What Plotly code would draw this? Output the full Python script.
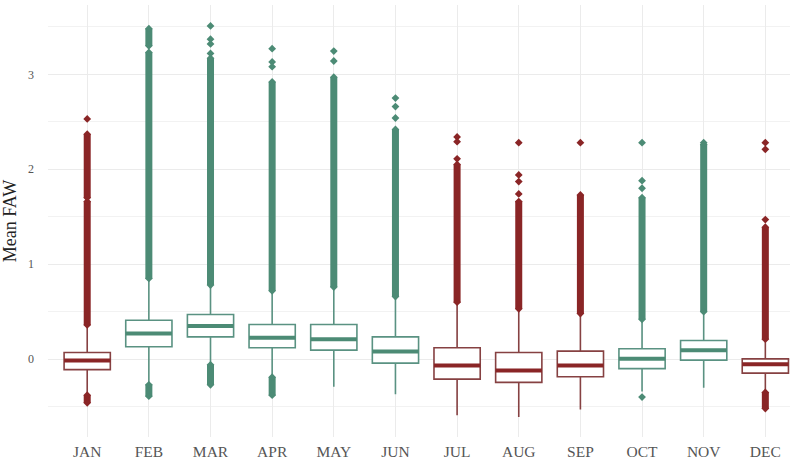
import plotly.graph_objects as go

# Monthly distribution summaries of mean FAW
months = ["JAN", "FEB", "MAR", "APR", "MAY", "JUN",
          "JUL", "AUG", "SEP", "OCT", "NOV", "DEC"]
season = ["low", "high", "high", "high", "high", "high",
          "low", "low", "low", "high", "high", "low"]

q1 = [-0.11, 0.13, 0.235, 0.12, 0.095, -0.042, -0.21, -0.245, -0.186, -0.10, -0.01, -0.147]
median = [-0.015, 0.27, 0.35, 0.225, 0.21, 0.08, -0.067, -0.12, -0.067, 0.003, 0.095, -0.053]
q3 = [0.07, 0.41, 0.47, 0.365, 0.365, 0.235, 0.12, 0.07, 0.084, 0.11, 0.197, 0.003]
lower_whisker = [-0.36, -0.25, -0.05, -0.17, -0.29, -0.37, -0.59, -0.61, -0.53, -0.34, -0.30, -0.33]
upper_whisker = [0.34, 0.83, 0.77, 0.70, 0.74, 0.64, 0.58, 0.51, 0.46, 0.40, 0.48, 0.19]

# Dense runs of outliers (low, high) per month
outlier_runs = [
    [(0.36, 1.66), (1.70, 2.37), (-0.46, -0.38)],
    [(0.85, 3.23), (3.30, 3.48), (-0.39, -0.27)],
    [(0.78, 3.17), (-0.27, -0.06)],
    [(0.72, 2.92), (-0.38, -0.19)],
    [(0.76, 2.97)],
    [(0.66, 2.42)],
    [(0.60, 2.05)],
    [(0.53, 1.66)],
    [(0.48, 1.73)],
    [(0.42, 1.70)],
    [(0.50, 2.26)],
    [(0.21, 1.39), (-0.52, -0.35)],
]
# Isolated outliers per month
outlier_points = [
    [2.53],
    [],
    [3.51, 3.37, 3.32, 3.22],
    [3.27, 3.13, 3.08],
    [3.245, 3.14],
    [2.75, 2.66, 2.54],
    [2.34, 2.29, 2.11],
    [2.28, 1.94, 1.87, 1.74],
    [2.28],
    [2.28, 1.88, 1.80, -0.40],
    [2.28],
    [2.28, 2.21, 1.47],
]

palette = {"low": "#8a2526", "high": "#4c8b75"}
outline = {"low": "#864142", "high": "#5a9282"}
box_width = 0.75

fig = go.Figure()

for i, m in enumerate(months):
    col = palette[season[i]]
    fig.add_trace(go.Box(
        x=[i], q1=[q1[i]], median=[median[i]], q3=[q3[i]],
        lowerfence=[lower_whisker[i]], upperfence=[upper_whisker[i]],
        width=box_width, whiskerwidth=0, boxpoints=False,
        fillcolor="white", line=dict(color=outline[season[i]], width=1.6),
        name=m, showlegend=False, hoverinfo="skip",
    ))
    # thick median bar
    fig.add_trace(go.Scatter(
        x=[i - box_width / 2, i + box_width / 2], y=[median[i], median[i]],
        mode="lines", line=dict(color=col, width=4),
        showlegend=False, hoverinfo="skip",
    ))
    for lo, hi in outlier_runs[i]:
        fig.add_trace(go.Scatter(
            x=[i, i], y=[lo, hi], mode="lines+markers",
            line=dict(color=col, width=7),
            marker=dict(symbol="diamond", size=6, color=col),
            showlegend=False, hoverinfo="skip",
        ))
    if outlier_points[i]:
        fig.add_trace(go.Scatter(
            x=[i] * len(outlier_points[i]), y=outlier_points[i], mode="markers",
            marker=dict(symbol="diamond", size=6, color=col),
            showlegend=False, hoverinfo="skip",
        ))

fig.update_layout(
    width=790, height=465,
    margin=dict(l=48, r=0, t=5, b=28),
    paper_bgcolor="white", plot_bgcolor="white",
    showlegend=False,
    xaxis=dict(
        range=[-0.636, 11.4],
        tickmode="array", tickvals=list(range(len(months))), ticktext=months,
        showgrid=True, gridcolor="#ebebeb", gridwidth=1,
        zeroline=False, showline=False, ticks="",
        tickfont=dict(family="Liberation Serif", size=15.5, color="#555555"),
        ticklabelstandoff=3,
    ),
    yaxis=dict(
        range=[-0.82, 3.73],
        tickmode="array", tickvals=[0, 1, 2, 3], ticktext=["0", "1", "2", "3"],
        showgrid=True, gridcolor="#ebebeb", gridwidth=1,
        minor=dict(tickvals=[-0.5, 0.5, 1.5, 2.5, 3.5], showgrid=True,
                   gridcolor="#f2f2f2", gridwidth=1),
        zeroline=False, showline=False, ticks="",
        tickfont=dict(family="Liberation Serif", size=12, color="#555555"),
        ticklabelstandoff=13,
        title=dict(text="Mean FAW", font=dict(family="Liberation Serif", size=18, color="#222222"),
                   standoff=8),
    ),
)

fig.write_html("out.html")
